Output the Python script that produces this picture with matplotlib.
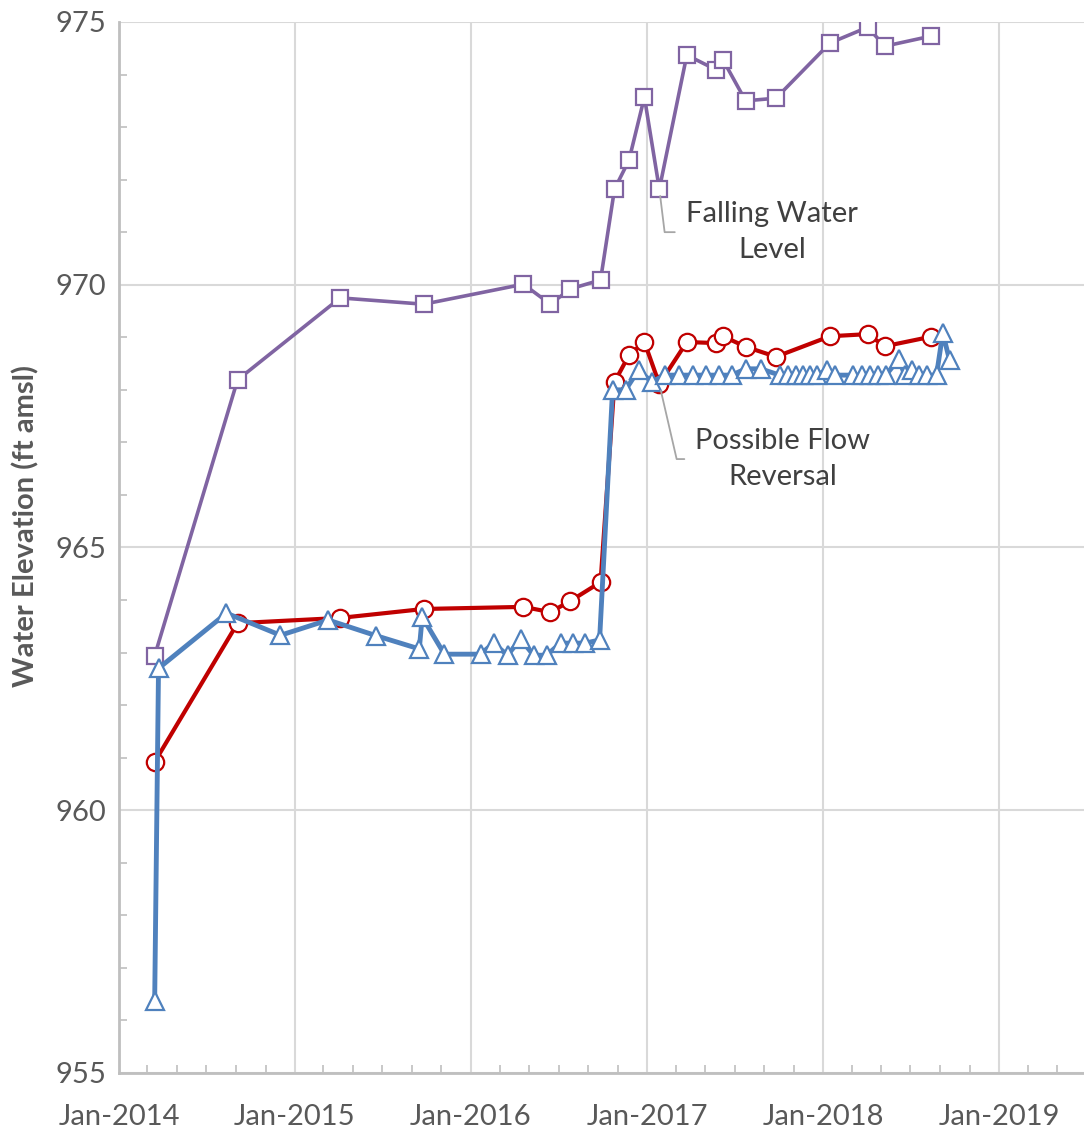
import pandas as pd
import matplotlib
matplotlib.use("Agg")
import matplotlib.pyplot as plt
import matplotlib.dates as mdates

# quarterly survey dates shared by wells 1 and 2
survey_dates = ["2014-03-16", "2014-09-04", "2015-04-05", "2015-09-25", "2016-04-19",
                "2016-06-14", "2016-07-25", "2016-09-26", "2016-10-25", "2016-11-24",
                "2016-12-26", "2017-01-26", "2017-03-24", "2017-05-24", "2017-06-07",
                "2017-07-24", "2017-09-25", "2018-01-15", "2018-04-03", "2018-05-09",
                "2018-08-12"]
well_1 = [962.94, 968.19, 969.75, 969.63, 970.01, 969.63, 969.92, 970.09, 971.82, 972.37,
          973.57, 971.82, 974.37, 974.09, 974.28, 973.50, 973.55, 974.60, 974.90, 974.54,
          974.73]
well_2 = [960.92, 963.56, 963.66, 963.83, 963.87, 963.77, 963.98, 964.34, 968.15, 968.66,
          968.91, 968.11, 968.91, 968.89, 969.02, 968.82, 968.63, 969.02, 969.06, 968.83,
          969.01]

# well 3 has more frequent readings
well_3_dates = ["2014-03-16", "2014-03-24", "2014-08-12", "2014-12-02", "2015-03-11",
                "2015-06-19", "2015-09-16", "2015-09-22", "2015-11-07", "2016-01-21",
                "2016-02-17", "2016-03-17", "2016-04-13", "2016-05-10", "2016-06-06",
                "2016-07-05", "2016-07-30", "2016-08-25", "2016-09-24", "2016-10-21",
                "2016-11-17", "2016-12-14", "2017-01-10", "2017-02-06", "2017-03-07",
                "2017-04-05", "2017-05-02", "2017-05-29", "2017-06-25", "2017-07-24",
                "2017-08-24", "2017-10-03", "2017-10-19", "2017-11-05", "2017-11-19",
                "2017-12-04", "2017-12-19", "2018-01-08", "2018-01-25", "2018-03-03",
                "2018-03-22", "2018-04-07", "2018-04-24", "2018-05-11", "2018-06-07",
                "2018-06-19", "2018-07-04", "2018-07-18", "2018-08-04", "2018-08-24",
                "2018-09-06", "2018-09-20"]
well_3 = [956.37, 962.70, 963.75, 963.33, 963.62, 963.32, 963.07, 963.68, 962.97, 962.97,
          963.18, 962.95, 963.26, 962.95, 962.95, 963.18, 963.18, 963.18, 963.24, 968.00,
          968.00, 968.38, 968.15, 968.28, 968.28, 968.28, 968.28, 968.28, 968.28, 968.40,
          968.40, 968.28, 968.28, 968.28, 968.28, 968.28, 968.28, 968.38, 968.28, 968.28,
          968.28, 968.28, 968.28, 968.28, 968.59, 968.28, 968.38, 968.28, 968.28, 968.28,
          969.08, 968.57]

survey_dates = pd.to_datetime(survey_dates)
well_3_dates = pd.to_datetime(well_3_dates)

plt.rcParams['font.family'] = ['Lato', 'DejaVu Sans']

fig = plt.figure(figsize=(10.84, 11.31), dpi=100)
ax = fig.add_axes([119 / 1084, 58 / 1131, 965 / 1084, 1051 / 1131])

ax.plot(survey_dates, well_1, color='#8064A2', lw=2.6, marker='s', ms=11,
        mfc='white', mec='#8064A2', mew=1.6)
ax.plot(survey_dates, well_2, color='#C00000', lw=3, marker='o', ms=12.5,
        mfc='white', mec='#C00000', mew=1.6)
ax.plot(well_3_dates, well_3, color='#4F81BD', lw=3.5, marker='^', ms=13.5,
        mfc='white', mec='#4F81BD', mew=1.6)

ax.set_ylim(955, 975)
ax.set_xlim(pd.Timestamp("2014-01-01"), pd.Timestamp("2019-06-26"))

ax.yaxis.set_major_locator(plt.MultipleLocator(5))
ax.yaxis.set_minor_locator(plt.MultipleLocator(1))
ax.xaxis.set_major_locator(mdates.YearLocator())
ax.xaxis.set_minor_locator(mdates.MonthLocator(bymonth=[3, 5, 7, 9, 11]))
ax.xaxis.set_major_formatter(mdates.DateFormatter('%b-%Y'))

ax.grid(True, which='major', color='#D9D9D9', lw=1.5)
ax.set_axisbelow(True)
for side in ['top', 'right']:
    ax.spines[side].set_visible(False)
for side in ['left', 'bottom']:
    ax.spines[side].set_color('#BFBFBF')
    ax.spines[side].set_linewidth(2)

ax.tick_params(which='major', length=0, labelsize=21, labelcolor='#595959')
ax.tick_params(axis='y', which='major', pad=9)
ax.tick_params(axis='x', which='major', pad=22)
ax.tick_params(which='minor', direction='in', length=6, width=1.2, color='#BFBFBF')

ax.set_ylabel('Water Elevation (ft amsl)', fontsize=21, fontweight='bold',
              color='#595959')
ax.yaxis.set_label_coords(-0.082, 0.52)

# callouts with elbow leader lines
ax.annotate('Falling Water\nLevel', xy=(survey_dates[11], well_1[11]),
            xytext=(81, -31), textcoords='offset points',
            ha='center', va='center', fontsize=21, color='#404040', linespacing=1.45,
            arrowprops=dict(arrowstyle='-', color='#A6A6A6', lw=1.3,
                            relpos=(0, 0.5), shrinkA=6, shrinkB=5,
                            connectionstyle='angle,angleA=0,angleB=-83,rad=0'))
ax.annotate('Possible Flow\nReversal', xy=(survey_dates[11], well_2[11]),
            xytext=(89, -54), textcoords='offset points',
            ha='center', va='center', fontsize=21, color='#404040', linespacing=1.45,
            arrowprops=dict(arrowstyle='-', color='#A6A6A6', lw=1.3,
                            relpos=(0, 0.5), shrinkA=6, shrinkB=5,
                            connectionstyle='angle,angleA=0,angleB=-77,rad=0'))

fig.savefig('out.png', dpi=100)
